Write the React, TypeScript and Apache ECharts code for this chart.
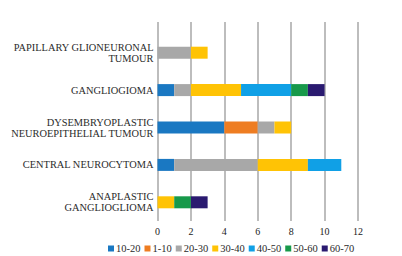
import React, { useEffect, useRef } from "react";
import * as echarts from "echarts";

const categories = [
  "ANAPLASTIC\nGANGLIOGLIOMA",
  "CENTRAL NEUROCYTOMA",
  "DYSEMBRYOPLASTIC\nNEUROEPITHELIAL TUMOUR",
  "GANGLIOGIOMA",
  "PAPILLARY GLIONEURONAL\nTUMOUR",
];

const seriesNames = ["10-20", "1-10", "20-30", "30-40", "40-50", "50-60", "60-70"];
const age10to20 = [0, 1, 4, 1, 0];
const age1to10 = [0, 0, 2, 0, 0];
const age20to30 = [0, 5, 1, 1, 2];
const age30to40 = [1, 3, 1, 3, 1];
const age40to50 = [0, 2, 0, 3, 0];
const age50to60 = [1, 0, 0, 1, 0];
const age60to70 = [1, 0, 0, 1, 0];
const seriesValues = [age10to20, age1to10, age20to30, age30to40, age40to50, age50to60, age60to70];
const colors = ["#1a78c2", "#ee7d22", "#a8a8a8", "#ffc305", "#10a0e6", "#17994a", "#2a1a70"];

const xMin = 0;
const xMax = 12;
const xInterval = 2;

export default function App() {
  const ref = useRef<HTMLDivElement>(null);
  useEffect(() => {
    if (!ref.current) return;
    const chart = echarts.init(ref.current, undefined, { renderer: "svg" });
    const font = "'Liberation Serif', 'Times New Roman', serif";
    const splitLine = { show: true, lineStyle: { color: "#adadad", width: 1.6 } };
    chart.setOption({
      animation: false,
      backgroundColor: "#ffffff",
      textStyle: { fontFamily: font },
      legend: {
        data: seriesNames,
        left: 103,
        top: 238,
        icon: "rect",
        itemWidth: 6,
        itemHeight: 6,
        itemGap: 4,
        textStyle: { fontFamily: font, fontSize: 10.5, color: "#2b2b2b", padding: [0, 0, 0, -3] },
      },
      grid: [
        { left: 157.5, right: 44, top: 34, bottom: 35 },
        { left: 157.5, right: 44, top: 22, height: 12 },
      ],
      xAxis: [
        {
          type: "value",
          gridIndex: 0,
          min: xMin,
          max: xMax,
          interval: xInterval,
          axisLine: { show: false },
          axisTick: { show: false },
          axisLabel: { fontFamily: font, fontSize: 10, color: "#222", margin: 5 },
          splitLine,
        },
        {
          type: "value",
          gridIndex: 1,
          min: xMin,
          max: xMax,
          interval: xInterval,
          axisLine: { show: false },
          axisTick: { show: false },
          axisLabel: { show: false },
          splitLine,
        },
      ],
      yAxis: [
        {
          type: "category",
          gridIndex: 0,
          data: categories,
          axisLine: { show: false },
          axisTick: { show: false },
          axisLabel: {
            fontFamily: font,
            fontSize: 10.4,
            color: "#2b2b2b",
            lineHeight: 11,
            margin: 4,
            align: "right",
          },
        },
        {
          type: "category",
          gridIndex: 1,
          data: [""],
          show: false,
        },
      ],
      series: seriesNames.map((name, i) => ({
        name,
        type: "bar",
        stack: "total",
        xAxisIndex: 0,
        yAxisIndex: 0,
        barWidth: 12,
        itemStyle: { color: colors[i] },
        data: seriesValues[i].map((v) => (v === 0 ? null : v)),
      })),
    });
    return () => chart.dispose();
  }, []);
  return (
    <div
      ref={ref}
      style={{ position: "absolute", left: 0, top: 0, width: 402, height: 256 }}
    />
  );
}
